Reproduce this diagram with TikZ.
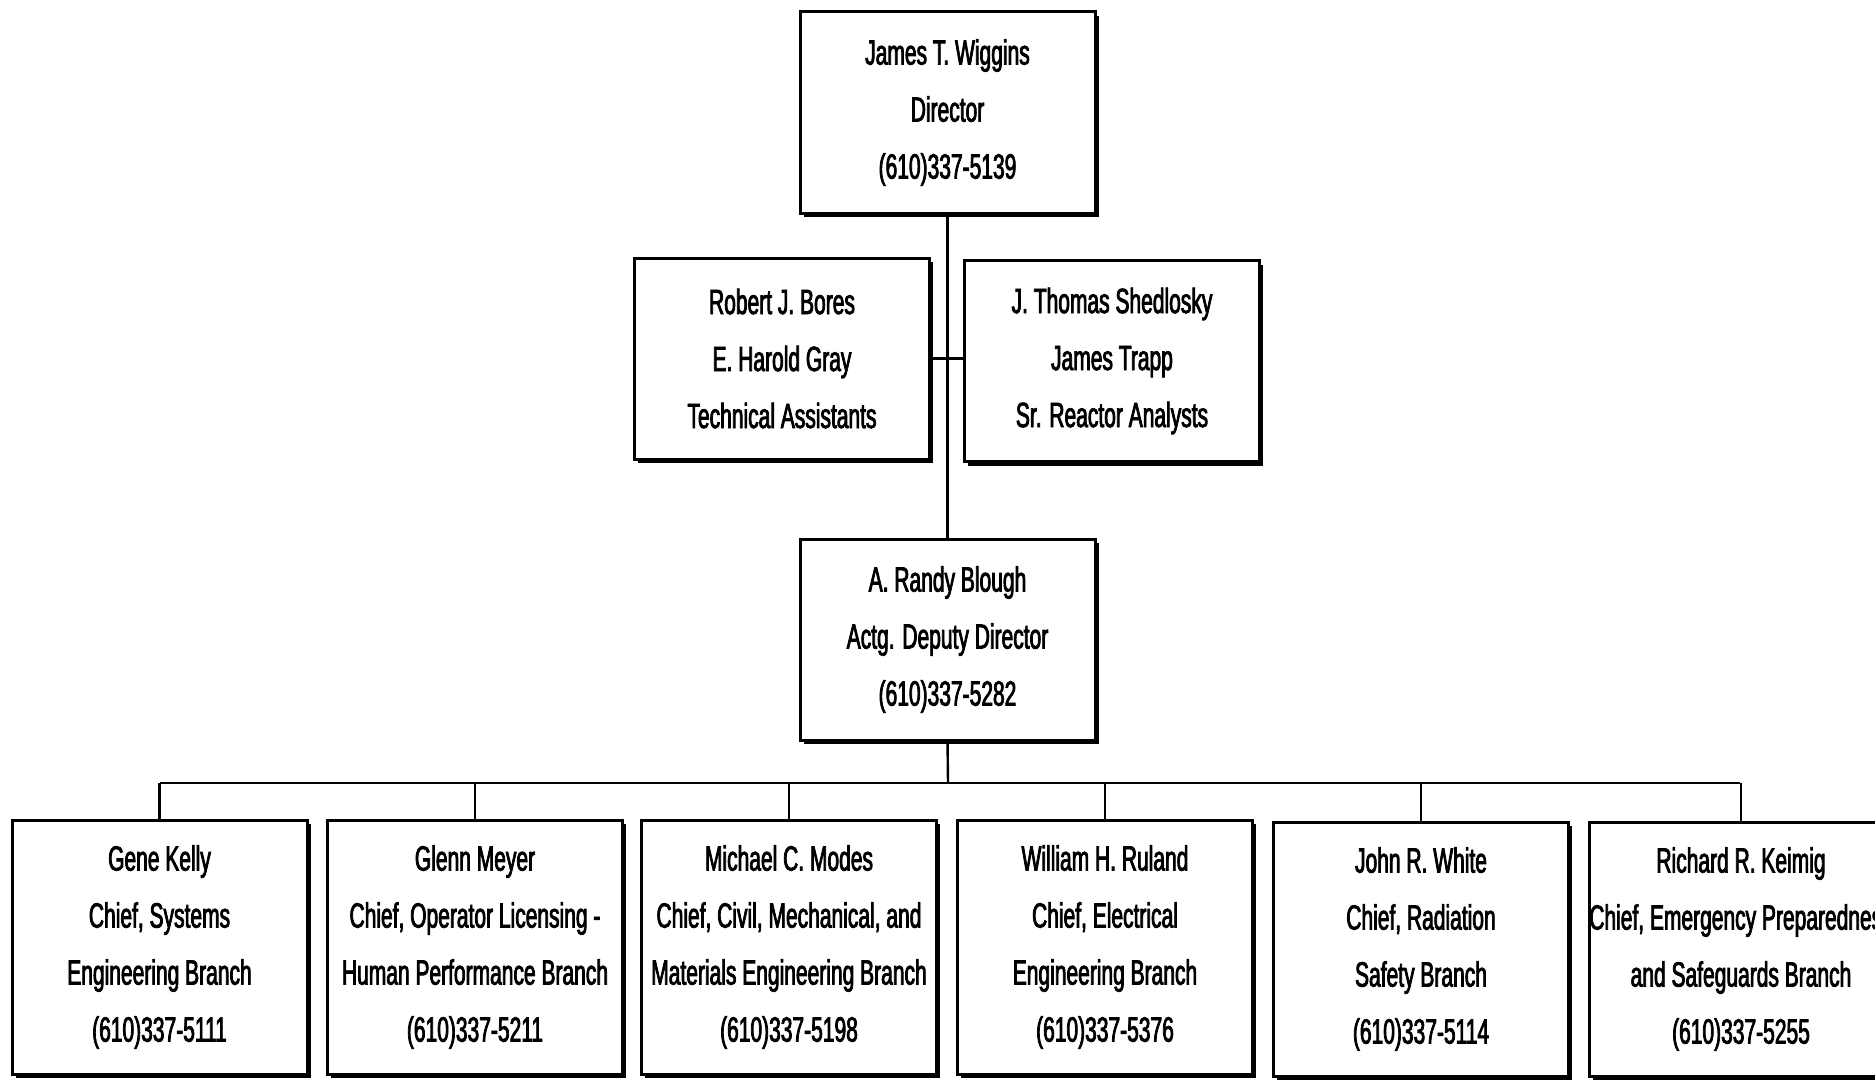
\documentclass[tikz,border=0pt]{standalone}
\usepackage{fontspec}
\setmainfont[FakeStretch=0.6,FakeBold=2.2]{Liberation Sans}
\usetikzlibrary{shadows}
\tikzset{
  orgbox/.style={draw=black, fill=white, line width=1.5pt, inner sep=0pt, outer sep=0pt,
    align=center, font=\fontsize{17.5}{28.5}\selectfont,
    drop shadow={shadow xshift=1.8pt, shadow yshift=-2.2pt, fill=black, opacity=1}},
  topw/.style={minimum width=147.5pt, minimum height=100.5pt},
  botw/.style={minimum width=147.5pt, minimum height=127pt},
  conn/.style={line width=1.2pt}
}
\begin{document}
\begin{tikzpicture}[x=0.5pt,y=-0.5pt]
\useasboundingbox (0,0) rectangle (1875,1081);
\clip (0,0) rectangle (1875,1081);
\fill[white] (0,0) rectangle (1875,1081);
\coordinate (bus) at (948,783);
\coordinate (busL) at (160,783);
\coordinate (busR) at (1740,783);
\node[orgbox,topw] (dir) at (947.5,112.5) {James T. Wiggins\\Director\\(610)337-5139};
\node[orgbox,topw] (ta) at (782,358.5) {Robert J. Bores\\E. Harold Gray\\Technical Assistants};
\node[orgbox,topw] (sra) at (1112,361) {J. Thomas Shedlosky\\James Trapp\\Sr. Reactor Analysts};
\node[orgbox,topw] (dep) at (947.5,639.5) {A. Randy Blough\\Actg. Deputy Director\\(610)337-5282};
\node[orgbox,botw] (b1) at (159.5,947) {Gene Kelly\\Chief, Systems\\Engineering Branch\\(610)337-5111};
\node[orgbox,botw] (b2) at (475,947) {Glenn Meyer\\Chief, Operator Licensing -\\Human Performance Branch\\(610)337-5211};
\node[orgbox,botw] (b3) at (789,947) {Michael C. Modes\\Chief, Civil, Mechanical, and\\Materials Engineering Branch\\(610)337-5198};
\node[orgbox,botw] (b4) at (1105,947) {William H. Ruland\\Chief, Electrical\\Engineering Branch\\(610)337-5376};
\node[orgbox,botw] (b5) at (1421,949) {John R. White\\Chief, Radiation\\Safety Branch\\(610)337-5114};
\node[orgbox,botw] (b6) at (1741,949) {Richard R. Keimig\\Chief, Emergency Preparedness\\and Safeguards Branch\\(610)337-5255};
\draw[conn] (dir.south) -- (dep.north);
\draw[conn] (ta.east) -- (ta.east -| sra.west);
\draw[conn] (dep.south) -- (bus);
\draw[conn] (busL) -- (busR);
\foreach \b in {b1,b2,b3,b4,b5,b6}{
  \draw[conn] (\b.north |- bus) -- (\b.north);
}
\end{tikzpicture}
\end{document}
